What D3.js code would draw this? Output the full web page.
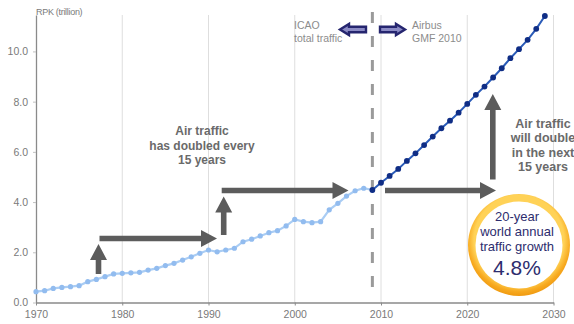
<!DOCTYPE html>
<html>
<head>
<meta charset="utf-8">
<script src="https://cdn.jsdelivr.net/npm/d3@7"></script>
<style>
  html, body { margin: 0; padding: 0; background: #fff; }
  svg { display: block; font-family: "Liberation Sans", Arial, sans-serif; }
</style>
</head>
<body>
<svg id="chart" width="574" height="324"></svg>
<script>
// Historical revenue passenger kilometres (ICAO), trillions
const icaoYears = d3.range(1970, 2010);
const icaoValues = [
  0.43, 0.47, 0.56, 0.60, 0.63, 0.67, 0.83, 0.92, 1.03, 1.14,
  1.16, 1.18, 1.20, 1.29, 1.36, 1.47, 1.56, 1.69, 1.82, 1.96,
  2.09, 2.02, 2.09, 2.16, 2.42, 2.52, 2.65, 2.78, 2.86, 3.05,
  3.31, 3.22, 3.18, 3.22, 3.69, 3.95, 4.24, 4.45, 4.55, 4.48
];

// Airbus Global Market Forecast 2010, trillions
const gmfYears = d3.range(2009, 2030);
const gmfValues = [
  4.48, 4.77, 5.04, 5.32, 5.64, 5.94, 6.27, 6.61, 6.94, 7.24,
  7.56, 7.91, 8.27, 8.60, 8.96, 9.33, 9.73, 10.09, 10.46, 10.90, 11.41
];

const xTicks = [1970, 1980, 1990, 2000, 2010, 2020, 2030];
const yTicks = [0, 2, 4, 6, 8, 10];
const splitYear = 2009;
const growthRate = "4.8%";

const svg = d3.select("#chart");

const x = d3.scaleLinear().domain([1970, 2030]).range([36, 553.5]);
const y = d3.scaleLinear().domain([0, 11.45]).range([302.5, 15]);

const gray = "#8a8a8a";
const arrowGray = "#5c5c5c";

// vertical gridlines
svg.append("g")
  .selectAll("line")
  .data(xTicks.slice(1))
  .join("line")
  .attr("x1", d => x(d)).attr("x2", d => x(d))
  .attr("y1", y.range()[1]).attr("y2", y(0))
  .attr("stroke", "#dedede").attr("stroke-width", 1);

// x axis
const xAxis = svg.append("g")
  .attr("transform", `translate(0,${y(0)})`)
  .call(d3.axisBottom(x).tickValues(xTicks).tickFormat(d3.format("d")).tickSize(3).tickSizeOuter(0));
xAxis.select(".domain").attr("stroke", gray).attr("stroke-width", 1.3);
xAxis.selectAll(".tick line").attr("stroke", gray);
xAxis.selectAll(".tick text")
  .attr("fill", "#7a7a7a").attr("font-size", 10.5).attr("dy", "0.95em")
  .attr("font-family", "Liberation Sans, Arial, sans-serif");

// y axis
const yAxis = svg.append("g")
  .attr("transform", `translate(${x(1970)},0)`)
  .call(d3.axisLeft(y).tickValues(yTicks).tickFormat(d3.format(".1f")).tickSize(3).tickSizeOuter(0));
yAxis.select(".domain").attr("stroke", gray).attr("stroke-width", 1.3);
yAxis.selectAll(".tick line").attr("stroke", "#c0c0c0");
yAxis.selectAll(".tick text")
  .attr("fill", "#7a7a7a").attr("font-size", 10.5).attr("x", -8)
  .attr("font-family", "Liberation Sans, Arial, sans-serif");

svg.append("text")
  .attr("x", x(1970)).attr("y", 15)
  .attr("font-size", 9).attr("fill", "#7a7a7a").attr("letter-spacing", -0.3)
  .text("RPK (trillion)");

// split between history and forecast
svg.append("line")
  .attr("x1", x(splitYear)).attr("x2", x(splitYear))
  .attr("y1", 12).attr("y2", 300)
  .attr("stroke", "#9a9a9a").attr("stroke-width", 3)
  .attr("stroke-dasharray", "11,13");

// data series
const line = d3.line().x(d => x(d[0])).y(d => y(d[1]));
const icao = icaoYears.map((yr, i) => [yr, icaoValues[i]]);
const gmf = gmfYears.map((yr, i) => [yr, gmfValues[i]]);

svg.append("path").datum(icao).attr("d", line)
  .attr("fill", "none").attr("stroke", "#aacdf4").attr("stroke-width", 2.2);
svg.append("g").selectAll("circle").data(icao).join("circle")
  .attr("cx", d => x(d[0])).attr("cy", d => y(d[1])).attr("r", 2.6)
  .attr("fill", "#92bcef");

svg.append("path").datum(gmf).attr("d", line)
  .attr("fill", "none").attr("stroke", "#2a5bb8").attr("stroke-width", 2);
svg.append("g").selectAll("circle").data(gmf).join("circle")
  .attr("cx", d => x(d[0])).attr("cy", d => y(d[1])).attr("r", 2.9)
  .attr("fill", "#0f2d85");

// thick block arrows (x0,y0) -> tip (x1,y1)
function blockArrow(x0, y0, x1, y1, shaft, headW, headL) {
  const dx = x1 - x0, dy = y1 - y0, len = Math.hypot(dx, dy);
  const ux = dx / len, uy = dy / len, px = -uy, py = ux;
  const bx = x1 - ux * headL, by = y1 - uy * headL;
  const s = shaft / 2, h = headW / 2;
  const pts = [
    [x0 + px * s, y0 + py * s], [bx + px * s, by + py * s], [bx + px * h, by + py * h],
    [x1, y1],
    [bx - px * h, by - py * h], [bx - px * s, by - py * s], [x0 - px * s, y0 - py * s]
  ];
  return "M" + pts.map(p => p.join(",")).join("L") + "Z";
}

const arrows = [
  [98.5, 274, 98.5, 244],
  [99.5, 238.5, 217, 238.5],
  [223.7, 235, 223.7, 196.5],
  [221.7, 190.5, 348.5, 190.5],
  [385, 190.5, 496, 190.5],
  [492.8, 179.5, 492.8, 94]
];
svg.append("g").selectAll("path").data(arrows).join("path")
  .attr("d", d => blockArrow(d[0], d[1], d[2], d[3], 5.6, 17, 16))
  .attr("fill", arrowGray);

// annotation texts
function textBlock(lines, cx, y0, dy, opts) {
  const t = svg.append("text")
    .attr("text-anchor", "middle")
    .attr("font-size", opts.size).attr("font-weight", opts.weight || "normal")
    .attr("fill", opts.fill);
  lines.forEach((l, i) => t.append("tspan").attr("x", cx).attr("y", y0 + i * dy).text(l));
  return t;
}
textBlock(["Air traffic", "has doubled every", "15 years"], 202, 135, 14.5,
  { size: 12, weight: "bold", fill: "#6a6a6a" });
textBlock(["Air traffic", "will double", "in the next", "15 years"], 543, 127.5, 14.5,
  { size: 12.5, weight: "bold", fill: "#6a6a6a" });

// legend
function legendArrow(tipX, tailX, cy) {
  const dir = Math.sign(tailX - tipX);
  const headL = 9;
  const bx = tipX + dir * headL;
  const p = [
    [tipX, cy], [bx, cy - 5.5], [bx, cy - 2.8], [tailX, cy - 2.8],
    [tailX, cy + 2.8], [bx, cy + 2.8], [bx, cy + 5.5]
  ];
  return "M" + p.map(q => q.join(",")).join("L") + "Z";
}
svg.append("path").attr("d", legendArrow(340, 366, 29.5))
  .attr("fill", "#8a8ac4").attr("stroke", "#25256f").attr("stroke-width", 2.4).attr("stroke-linejoin", "miter");
svg.append("path").attr("d", legendArrow(405, 380, 29.5))
  .attr("fill", "#8a8ac4").attr("stroke", "#25256f").attr("stroke-width", 2.4).attr("stroke-linejoin", "miter");

const legendText = (lines, lx) => {
  const t = svg.append("text").attr("font-size", 10.5).attr("fill", "#8c8c8c");
  lines.forEach((l, i) => t.append("tspan").attr("x", lx).attr("y", 29 + i * 12.5).text(l));
};
legendText(["ICAO", "total traffic"], 294);
legendText(["Airbus", "GMF 2010"], 412);

// growth badge
const defs = svg.append("defs");
const grad = defs.append("radialGradient").attr("id", "ring")
  .attr("cx", "50%").attr("cy", "45%").attr("r", "55%");
grad.append("stop").attr("offset", "80%").attr("stop-color", "#ffd257");
grad.append("stop").attr("offset", "92%").attr("stop-color", "#f7a91f");
grad.append("stop").attr("offset", "100%").attr("stop-color", "#f09a10");

const bx = 519, by = 245, br = 51;
svg.append("circle").attr("cx", bx).attr("cy", by).attr("r", br).attr("fill", "url(#ring)");
svg.append("circle").attr("cx", bx).attr("cy", by).attr("r", br - 7.5).attr("fill", "#ffffff");

textBlock(["20-year", "world annual", "traffic growth"], bx - 2, 220.5, 15,
  { size: 13, fill: "#2d2d6e" });
svg.append("text").attr("x", bx - 2).attr("y", 275).attr("text-anchor", "middle")
  .attr("font-size", 21).attr("fill", "#2d2d6e").text(growthRate);
</script>
</body>
</html>
